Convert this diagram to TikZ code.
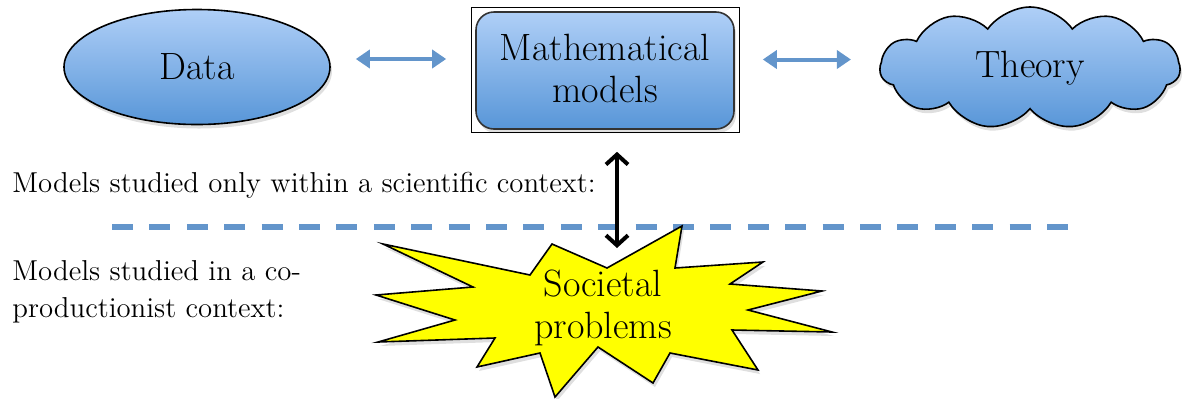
\documentclass[tikz,border=0pt]{standalone}
\usepackage{tikz}
\usetikzlibrary{arrows.meta,shapes.geometric,shapes.symbols,shadows}
\tikzset{>={Latex[width=3pt,length=4pt]}}
\definecolor{lightblue}{HTML}{AFCFF7}
\definecolor{midblue}{HTML}{5896D8}
\definecolor{linkblue}{HTML}{6395CB}
\definecolor{staryellow}{HTML}{FFFF00}
\newcommand{\BIG}{\fontsize{19}{21}\selectfont}
\newcommand{\SMALL}{\fontsize{14.4}{18.5}\selectfont}
\tikzset{
  blob/.style={draw=black, line width=0.8pt, top color=lightblue,
    bottom color=midblue, font=\BIG, align=center, inner sep=0pt,
    drop shadow={shadow xshift=1pt, shadow yshift=-2pt, opacity=0.25}},
  link/.style={{Triangle[width=9pt,length=7pt]}-{Triangle[width=9pt,length=7pt]},
    draw=linkblue, line width=2pt},
  bigarrow/.style={{Straight Barb[width=11pt,length=5pt]}-{Straight Barb[width=11pt,length=5pt]},
    line width=2pt, line cap=round},
  say/.style={font=\SMALL, align=left, inner sep=0pt}
}

\begin{document}
\begin{tikzpicture}[x=0.5pt, y=-0.5pt]

  \useasboundingbox (0,0) rectangle (1189,398);

  %% top row
  \node[blob, ellipse, minimum width=133pt, minimum height=57.5pt]
    (data) at (197,67) {Data};
  \node[blob, rounded corners=9pt, draw=black!80, minimum width=129pt,
    minimum height=58.5pt] (models) at (605,70.5)
    {\raisebox{2.5pt}{Mathematical}\\\raisebox{2.5pt}{models}};
  \draw[line width=0.5pt] ([shift={(-2pt,2pt)}]models.north west)
    rectangle ([shift={(2.5pt,-1.5pt)}]models.south east);
  \node[blob, cloud, cloud puffs=11, cloud puff arc=110, aspect=2.4,
    minimum width=150pt, minimum height=61pt] (theory) at (1030,68) {Theory};

  \draw[link, shorten <=12.5pt, shorten >=14.5pt]
    ([yshift=4pt]data.east) -- ([yshift=4pt]data.east -| models.west);
  \draw[link, shorten <=14pt, shorten >=14pt]
    ([yshift=5.5pt]models.east) -- ([yshift=5.5pt]models.east -| theory.west);

  %% separator
  \draw[linkblue, line width=3pt, dash pattern=on 10.5pt off 8.2pt]
    (112,227) -- (1068,227);

  \node[say, anchor=base west] (sci) at (12,192)
    {Models studied only within a scientific context:};
  \node[say, anchor=base west] (coprod) at (12,317)
    {Models studied in a co-\\productionist context:};

  %% societal problems
  \draw[fill=staryellow, line width=0.8pt,
    drop shadow={shadow xshift=1pt, shadow yshift=-2pt, opacity=0.25}]
    (383,244) -- (473,287) -- (376,295) -- (455,320) -- (378,342)
    -- (495,338) -- (477,367) -- (540,353) -- (555,397) -- (598,347)
    -- (653,383) -- (670,353) -- (758,370) -- (732,330) -- (832,332)
    -- (748,310) -- (822,291) -- (730,284) -- (763,262) -- (675,268)
    -- (682,226) -- (607,268) -- (552,244) -- (530,275) -- cycle;
  \node[font=\BIG, align=center, inner sep=0pt] (society) at (603,308)
    {Societal\\problems};

  \coordinate (hit) at (617,248);
  \draw[bigarrow, shorten <=11pt] ([xshift=6pt]models.south) -- (hit);

\end{tikzpicture}
\end{document}
